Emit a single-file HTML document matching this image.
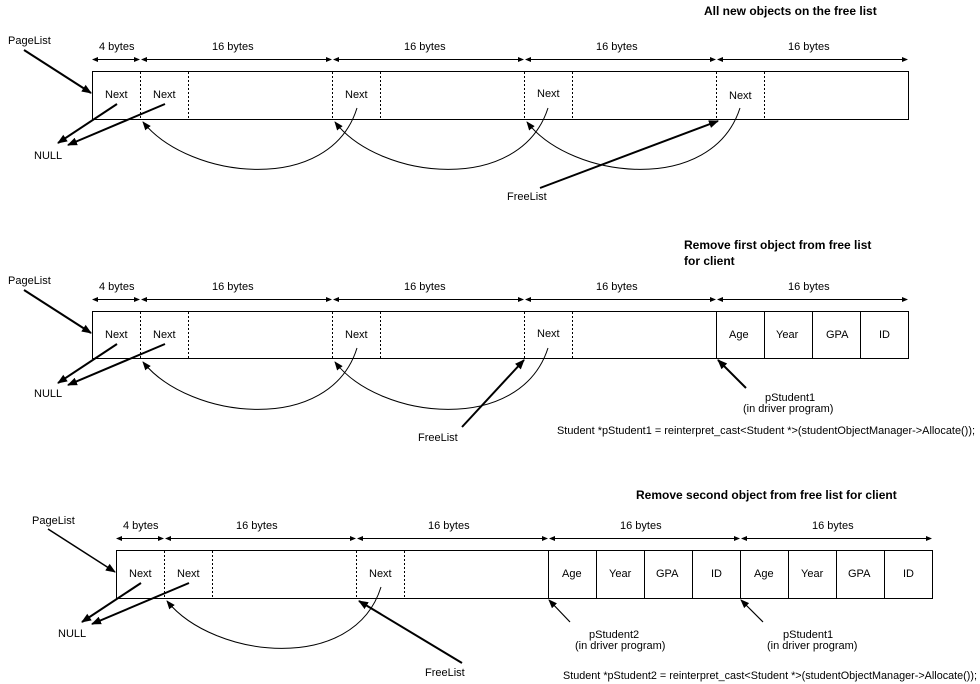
<!DOCTYPE html>
<html><head><style>
html,body{margin:0;padding:0;background:#fff;}
svg{display:block;font-family:"Liberation Sans",Arial,sans-serif;font-size:11px;}
</style></head><body>
<svg width="980" height="684" viewBox="0 0 980 684" xmlns="http://www.w3.org/2000/svg">
<defs>
<marker id="d" markerWidth="6" markerHeight="6" refX="5" refY="3" orient="auto-start-reverse" markerUnits="userSpaceOnUse"><path d="M0,0.5 L6,3 L0,5.5z" fill="#000"/></marker>
<marker id="a" markerWidth="10" markerHeight="10" refX="9" refY="5" orient="auto" markerUnits="userSpaceOnUse"><path d="M0,1 L10,5 L0,9z" fill="#000"/></marker>
<marker id="s" markerWidth="9" markerHeight="8" refX="8" refY="4" orient="auto" markerUnits="userSpaceOnUse"><path d="M0,0.5 L9,4 L0,7.5z" fill="#000"/></marker>
</defs>
<g fill="none" stroke="#000" stroke-width="1">
<!-- Diagram 1 -->
<rect x="92.5" y="71.5" width="816" height="48"/>
<g stroke-dasharray="2,2"><path d="M140.5,72V119M188.5,72V119M332.5,72V119M380.5,72V119M524.5,72V119M572.5,72V119M716.5,72V119M764.5,72V119"/></g>
<g marker-start="url(#d)" marker-end="url(#d)">
<path d="M93,59.5H139"/><path d="M142,59.5H331"/><path d="M334,59.5H523"/><path d="M526,59.5H715"/><path d="M718,59.5H907"/>
<path d="M93,299.5H139"/><path d="M142,299.5H331"/><path d="M334,299.5H523"/><path d="M526,299.5H715"/><path d="M718,299.5H907"/>
<path d="M117,538.5H163"/><path d="M166,538.5H355"/><path d="M358,538.5H547"/><path d="M550,538.5H739"/><path d="M742,538.5H931"/>
</g>
<path d="M24,50 L91,93" stroke-width="2" marker-end="url(#a)"/>
<path d="M117,104 L58,143" stroke-width="2" marker-end="url(#a)"/>
<path d="M165,104 L68,145" stroke-width="2" marker-end="url(#a)"/>
<path d="M357,108 C330,195 190,180 143,122" marker-end="url(#s)"/>
<path d="M548,108 C520,195 380,180 335,122" marker-end="url(#s)"/>
<path d="M740,108 C712,195 572,180 527,122" marker-end="url(#s)"/>
<path d="M540,188 L718,121" stroke-width="2" marker-end="url(#a)"/>
<!-- Diagram 2 -->
<rect x="92.5" y="311.5" width="816" height="47"/>
<g stroke-dasharray="2,2"><path d="M140.5,312V358M188.5,312V358M332.5,312V358M380.5,312V358M524.5,312V358M572.5,312V358"/></g>
<path d="M716.5,312V358M764.5,312V358M812.5,312V358M860.5,312V358"/>
<path d="M24,290 L91,333" stroke-width="2" marker-end="url(#a)"/>
<path d="M117,344 L58,383" stroke-width="2" marker-end="url(#a)"/>
<path d="M165,344 L68,385" stroke-width="2" marker-end="url(#a)"/>
<path d="M357,348 C330,435 190,420 143,362" marker-end="url(#s)"/>
<path d="M548,348 C520,435 380,420 335,362" marker-end="url(#s)"/>
<path d="M462,427 L524,360" stroke-width="2" marker-end="url(#a)"/>
<path d="M746,388 L718,360" stroke-width="2" marker-end="url(#a)"/>
<!-- Diagram 3 -->
<rect x="116.5" y="550.5" width="816" height="48"/>
<g stroke-dasharray="2,2"><path d="M164.5,551V598M212.5,551V598M356.5,551V598M404.5,551V598"/></g>
<path d="M548.5,551V598M596.5,551V598M644.5,551V598M692.5,551V598M740.5,551V598M788.5,551V598M836.5,551V598M884.5,551V598"/>
<path d="M48,529 L115,572" stroke-width="1.5" marker-end="url(#a)"/>
<path d="M141,583 L82,622" stroke-width="2" marker-end="url(#a)"/>
<path d="M189,583 L92,624" stroke-width="2" marker-end="url(#a)"/>
<path d="M381,587 C354,674 214,659 167,601" marker-end="url(#s)"/>
<path d="M462,663 L359,601" stroke-width="2" marker-end="url(#a)"/>
<path d="M570,622 L549,600" stroke-width="1.2" marker-end="url(#s)"/>
<path d="M763,622 L741,600" stroke-width="1.2" marker-end="url(#s)"/>
</g>
<g fill="#000">
<text x="704" y="15" font-weight="bold" font-size="12">All new objects on the free list</text>
<text x="8" y="44">PageList</text>
<text x="99" y="50">4 bytes</text>
<text x="212" y="50">16 bytes</text>
<text x="404" y="50">16 bytes</text>
<text x="596" y="50">16 bytes</text>
<text x="788" y="50">16 bytes</text>
<text x="105" y="98">Next</text><text x="153" y="98">Next</text><text x="345" y="98">Next</text><text x="537" y="97">Next</text><text x="729" y="99">Next</text>
<text x="34" y="159">NULL</text>
<text x="507" y="200">FreeList</text>

<text x="684" y="249" font-weight="bold" font-size="12">Remove first object from free list</text>
<text x="684" y="265" font-weight="bold" font-size="12">for client</text>
<text x="8" y="284">PageList</text>
<text x="99" y="290">4 bytes</text>
<text x="212" y="290">16 bytes</text>
<text x="404" y="290">16 bytes</text>
<text x="596" y="290">16 bytes</text>
<text x="788" y="290">16 bytes</text>
<text x="105" y="338">Next</text><text x="153" y="338">Next</text><text x="345" y="338">Next</text><text x="537" y="337">Next</text>
<text x="729" y="338">Age</text><text x="776" y="338">Year</text><text x="826" y="338">GPA</text><text x="879" y="338">ID</text>
<text x="34" y="397">NULL</text>
<text x="418" y="441">FreeList</text>
<text x="765" y="401">pStudent1</text>
<text x="743" y="412">(in driver program)</text>
<text x="557" y="434" textLength="418" lengthAdjust="spacingAndGlyphs">Student *pStudent1 = reinterpret_cast&lt;Student *&gt;(studentObjectManager-&gt;Allocate());</text>

<text x="636" y="499" font-weight="bold" font-size="12">Remove second object from free list for client</text>
<text x="32" y="524">PageList</text>
<text x="123" y="529">4 bytes</text>
<text x="236" y="529">16 bytes</text>
<text x="428" y="529">16 bytes</text>
<text x="620" y="529">16 bytes</text>
<text x="812" y="529">16 bytes</text>
<text x="129" y="577">Next</text><text x="177" y="577">Next</text><text x="369" y="577">Next</text>
<text x="562" y="577">Age</text><text x="609" y="577">Year</text><text x="656" y="577">GPA</text><text x="711" y="577">ID</text>
<text x="754" y="577">Age</text><text x="801" y="577">Year</text><text x="848" y="577">GPA</text><text x="903" y="577">ID</text>
<text x="58" y="637">NULL</text>
<text x="425" y="676">FreeList</text>
<text x="589" y="638">pStudent2</text>
<text x="575" y="649">(in driver program)</text>
<text x="783" y="638">pStudent1</text>
<text x="767" y="649">(in driver program)</text>
<text x="563" y="679" textLength="414" lengthAdjust="spacingAndGlyphs">Student *pStudent2 = reinterpret_cast&lt;Student *&gt;(studentObjectManager-&gt;Allocate());</text>
</g>
</svg>
</body></html>
